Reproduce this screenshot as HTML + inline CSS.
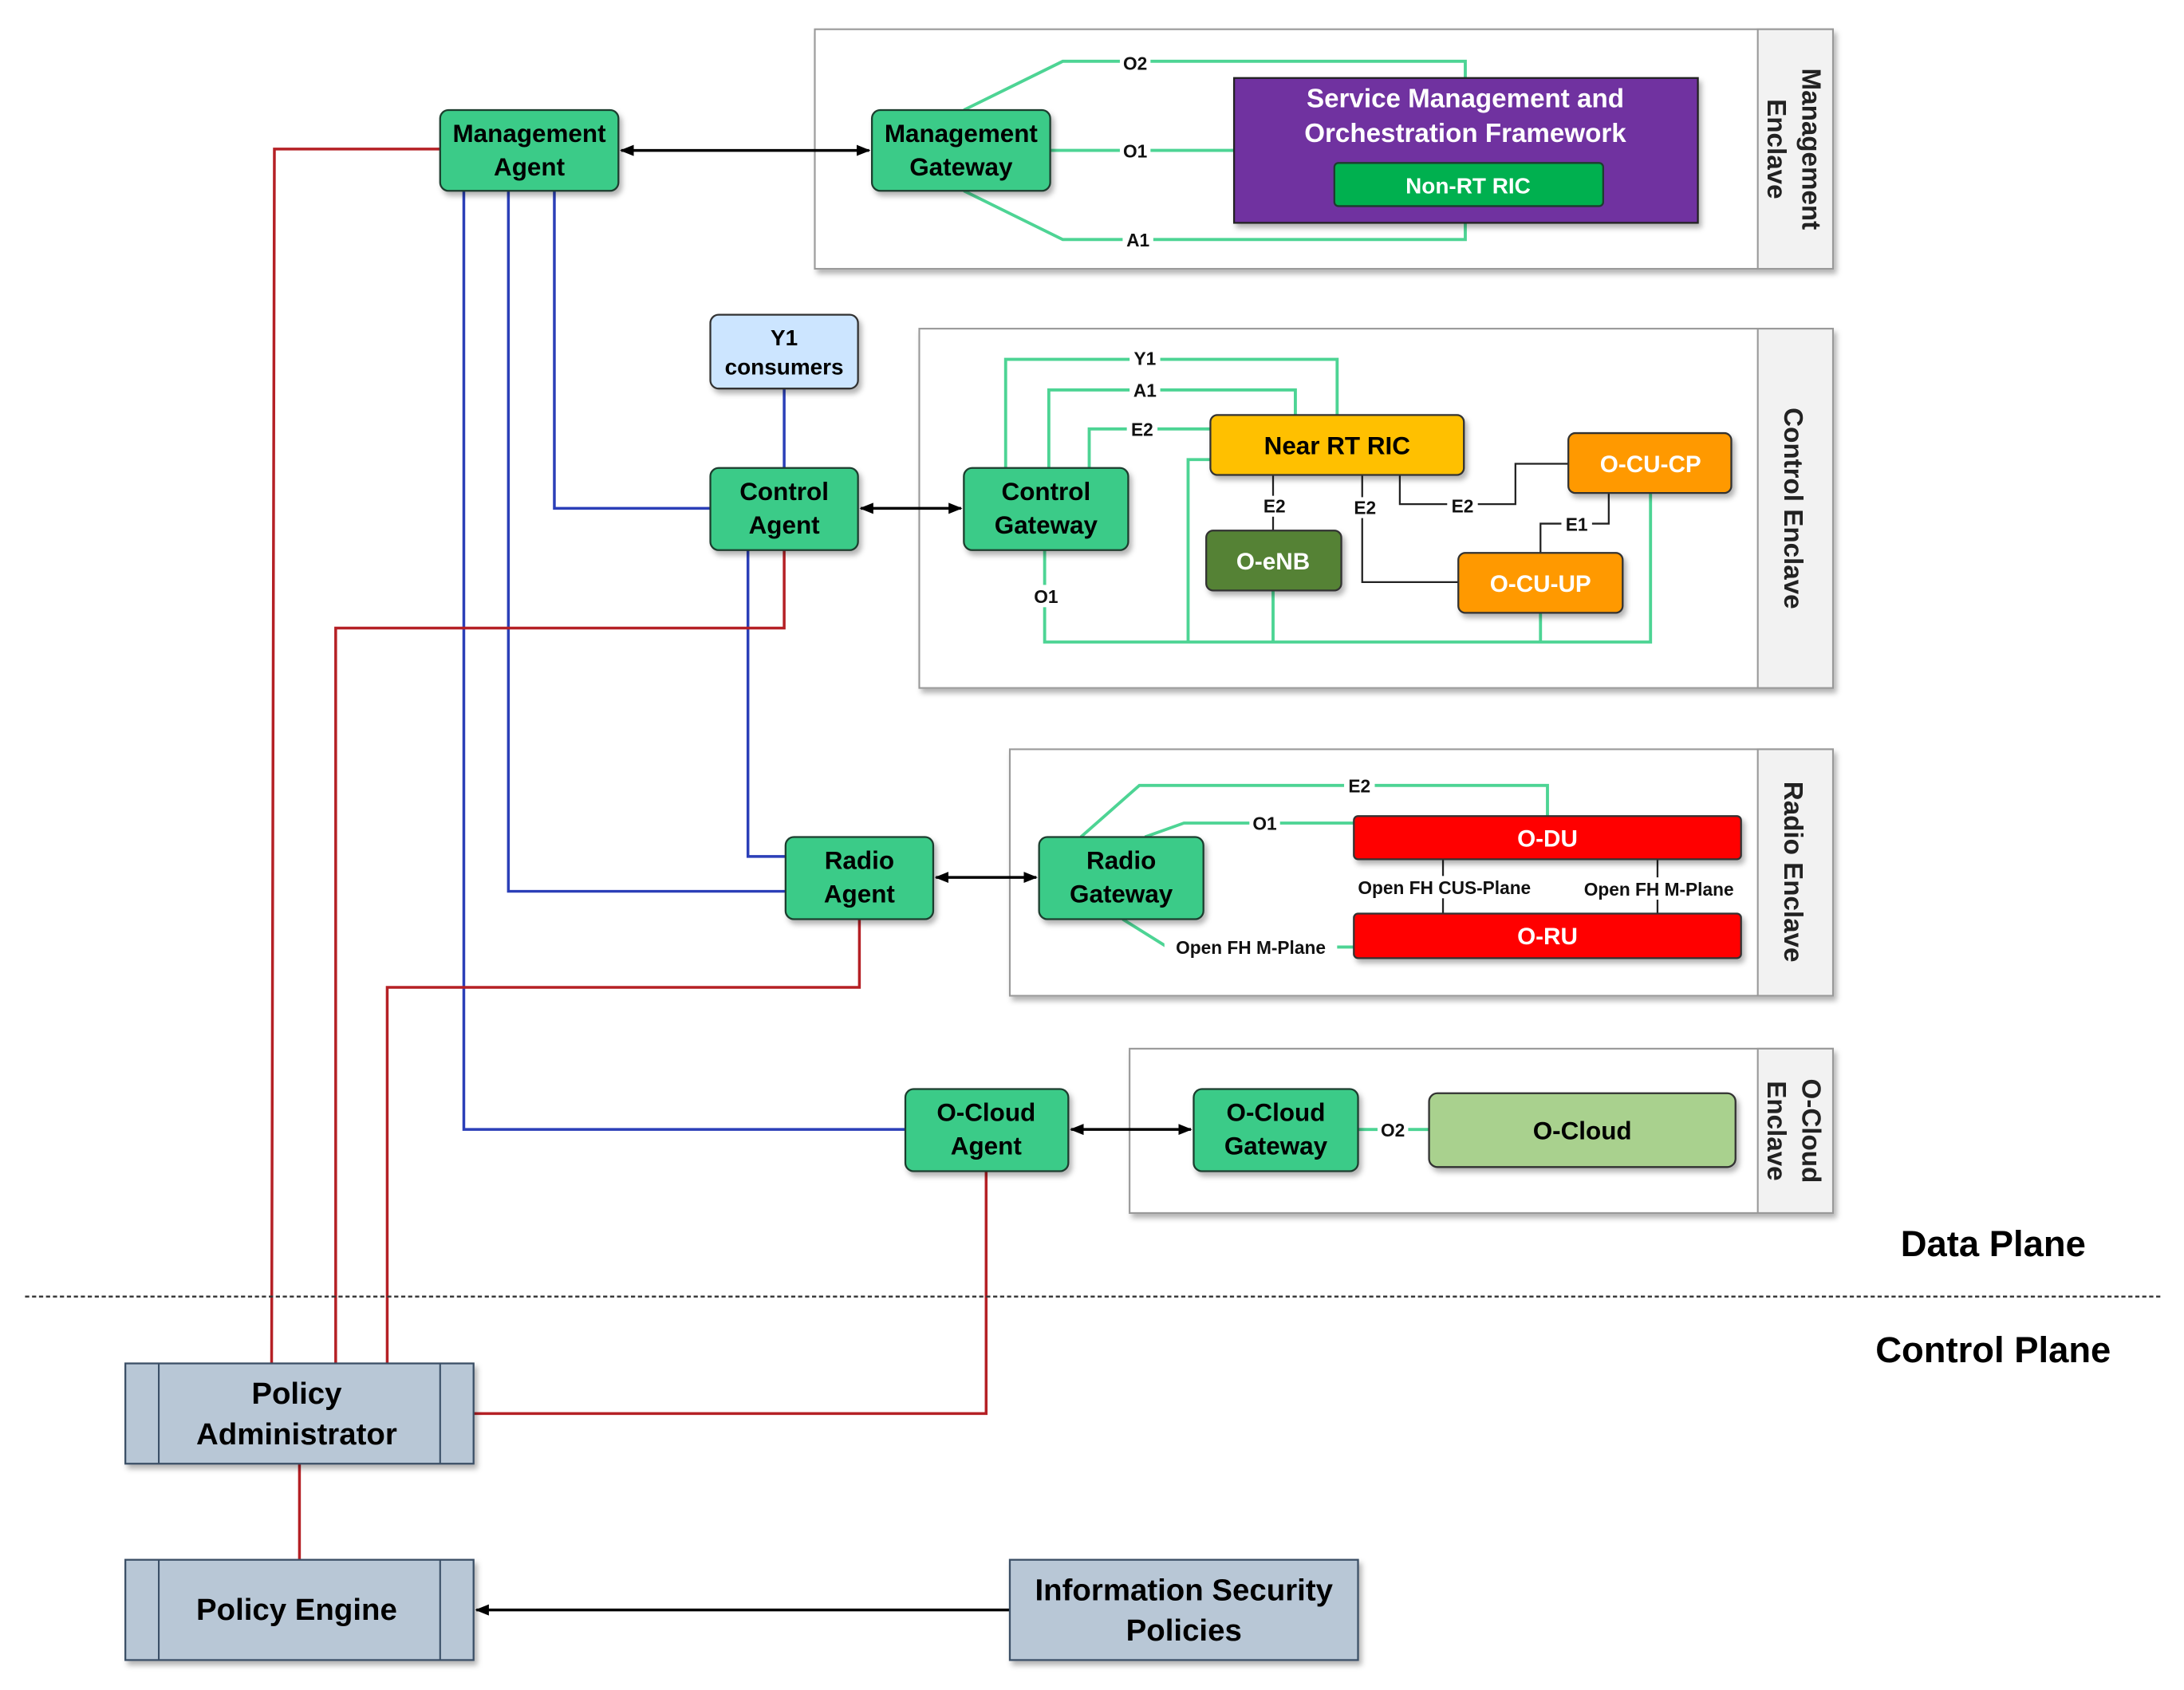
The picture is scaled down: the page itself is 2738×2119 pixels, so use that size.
<!DOCTYPE html>
<html><head><meta charset="utf-8"><style>
html,body{margin:0;padding:0;background:#fff;}
svg{display:block;}
text{font-family:"Liberation Sans",sans-serif;font-weight:bold;}
</style></head><body>
<svg width="2738" height="2119" viewBox="0 0 1568 1213.5" xmlns="http://www.w3.org/2000/svg">
<defs>
<marker id="ah" markerWidth="10" markerHeight="10" refX="9" refY="5" orient="auto-start-reverse" markerUnits="userSpaceOnUse"><path d="M0,1 L10,5 L0,9 Z" fill="#000"/></marker>
<filter id="sh" x="-10%" y="-10%" width="130%" height="140%"><feDropShadow dx="2" dy="3" stdDeviation="2" flood-color="#000" flood-opacity="0.3"/></filter>
</defs>

<!-- Enclaves -->
<g stroke="#999" stroke-width="1.2" fill="#fff" filter="url(#sh)">
<rect x="585" y="21" width="731" height="172"/>
<rect x="660" y="236" width="656" height="258"/>
<rect x="725" y="538" width="591" height="177"/>
<rect x="811" y="753" width="505" height="118"/>
</g>
<g stroke="#999" stroke-width="1.2" fill="#f2f2f2">
<rect x="1262" y="21" width="54" height="172"/>
<rect x="1262" y="236" width="54" height="258"/>
<rect x="1262" y="538" width="54" height="177"/>
<rect x="1262" y="753" width="54" height="118"/>
</g>
<g font-size="19" fill="#222" text-anchor="middle">
<text transform="translate(1294,107) rotate(90)">Management</text>
<text transform="translate(1269,107) rotate(90)">Enclave</text>
<text transform="translate(1281,365) rotate(90)">Control Enclave</text>
<text transform="translate(1281,626) rotate(90)">Radio Enclave</text>
<text transform="translate(1294,812) rotate(90)">O-Cloud</text>
<text transform="translate(1269,812) rotate(90)">Enclave</text>
</g>

<!-- Green connectors -->
<g stroke="#4dd494" stroke-width="2.2" fill="none">
<polyline points="692,79 763,44 1052,44 1052,56"/>
<polyline points="754,108 886,108"/>
<polyline points="692,137 763,172 1052,172 1052,148"/>
<polyline points="722,336 722,258 960,258 960,298"/>
<polyline points="753,336 753,280 930,280 930,298"/>
<polyline points="782,336 782,308 869,308"/>
<polyline points="750,395 750,461 1185,461 1185,354"/>
<polyline points="853,461 853,330 869,330"/>
<polyline points="914,461 914,424"/>
<polyline points="1106,461 1106,440"/>
<polyline points="776,601 818,564 1111,564 1111,586"/>
<polyline points="822,601 850,591 972,591"/>
<polyline points="806,660 838,680 972,680"/>
<polyline points="975,811 1026,811"/>
</g>
<!-- Black connectors -->
<g stroke="#222" stroke-width="1.3" fill="none">
<polyline points="914,341 914,381"/>
<polyline points="978,341 978,418 1047,418"/>
<polyline points="1005,341 1005,362 1088,362 1088,333 1126,333"/>
<polyline points="1155,354 1155,376 1106,376 1106,397"/>
<polyline points="1036,617 1036,656"/>
<polyline points="1190,617 1190,656"/>
</g>
<!-- labels on connectors -->
<g font-size="13" fill="#111" text-anchor="middle">
<g fill="#fff" stroke="none">
<rect x="804" y="37" width="22" height="15"/><rect x="804" y="101" width="22" height="15"/><rect x="806" y="165" width="22" height="15"/>
<rect x="811" y="250" width="22" height="15"/><rect x="811" y="273" width="22" height="15"/><rect x="809" y="301" width="22" height="15"/>
<rect x="740" y="420" width="22" height="16"/><rect x="904" y="356" width="22" height="15"/><rect x="969" y="357" width="22" height="15"/>
<rect x="1039" y="356" width="22" height="15"/><rect x="1121" y="369" width="22" height="15"/>
<rect x="965" y="557" width="22" height="15"/><rect x="897" y="584" width="22" height="15"/><rect x="836" y="672" width="124" height="16"/>
<rect x="964" y="629" width="146" height="16"/><rect x="1128" y="630" width="126" height="16"/><rect x="989" y="804" width="22" height="15"/>
</g>
<text x="815" y="50">O2</text><text x="815" y="113">O1</text><text x="817" y="177">A1</text>
<text x="822" y="262">Y1</text><text x="822" y="285">A1</text><text x="820" y="313">E2</text>
<text x="751" y="433">O1</text><text x="915" y="368">E2</text><text x="980" y="369">E2</text>
<text x="1050" y="368">E2</text><text x="1132" y="381">E1</text>
<text x="976" y="569">E2</text><text x="908" y="596">O1</text><text x="898" y="685">Open FH M-Plane</text>
<text x="1037" y="642">Open FH CUS-Plane</text><text x="1191" y="643">Open FH M-Plane</text>
<text x="1000" y="816">O2</text>
</g>

<!-- Blue lines -->
<g stroke="#2b3fb8" stroke-width="2" fill="none">
<polyline points="398,137 398,365 510,365"/>
<polyline points="365,137 365,640 564,640"/>
<polyline points="333,137 333,811 650,811"/>
<polyline points="537,395 537,615 564,615"/>
<polyline points="563,279 563,336"/>
</g>
<!-- Red lines -->
<g stroke="#b52025" stroke-width="2" fill="none">
<polyline points="316,107 197,107 195,979"/>
<polyline points="563,395 563,451 241,451 241,979"/>
<polyline points="617,660 617,709 278,709 278,979"/>
<polyline points="708,841 708,1015 340,1015"/>
<polyline points="215,1051 215,1120"/>
</g>
<!-- arrows -->
<g stroke="#000" stroke-width="2" fill="none">
<line x1="446" y1="108" x2="624" y2="108" marker-start="url(#ah)" marker-end="url(#ah)"/>
<line x1="618" y1="365" x2="690" y2="365" marker-start="url(#ah)" marker-end="url(#ah)"/>
<line x1="672" y1="630" x2="744" y2="630" marker-start="url(#ah)" marker-end="url(#ah)"/>
<line x1="769" y1="811" x2="855" y2="811" marker-start="url(#ah)" marker-end="url(#ah)"/>
<line x1="725" y1="1156" x2="342" y2="1156" marker-end="url(#ah)"/>
</g>
<!-- dashed -->
<line x1="18" y1="931" x2="1552" y2="931" stroke="#333" stroke-width="1.3" stroke-dasharray="3,2"/>
<g font-size="26" fill="#000" text-anchor="middle">
<text x="1431" y="902">Data Plane</text>
<text x="1431" y="978">Control Plane</text>
</g>

<!-- Nodes -->
<g filter="url(#sh)" stroke="#1f3d2e" stroke-width="1.3">
<rect x="316" y="79" width="128" height="58" rx="6" fill="#3acb88"/>
<rect x="626" y="79" width="128" height="58" rx="6" fill="#3acb88"/>
<rect x="886" y="56" width="333" height="104" fill="#7030a0" stroke="#222"/>
<rect x="958" y="117" width="193" height="31" rx="3" fill="#00b050"/>
<rect x="510" y="226" width="106" height="53" rx="6" fill="#cce5ff" stroke="#333"/>
<rect x="510" y="336" width="106" height="59" rx="6" fill="#3acb88"/>
<rect x="692" y="336" width="118" height="59" rx="6" fill="#3acb88"/>
<rect x="869" y="298" width="182" height="43" rx="5" fill="#ffc000" stroke="#333"/>
<rect x="1126" y="311" width="117" height="43" rx="5" fill="#ff9900" stroke="#333"/>
<rect x="866" y="381" width="97" height="43" rx="5" fill="#548235" stroke="#333"/>
<rect x="1047" y="397" width="118" height="43" rx="5" fill="#ff9900" stroke="#333"/>
<rect x="564" y="601" width="106" height="59" rx="6" fill="#3acb88"/>
<rect x="746" y="601" width="118" height="59" rx="6" fill="#3acb88"/>
<rect x="972" y="586" width="278" height="31" rx="3" fill="#ff0000" stroke="#333"/>
<rect x="972" y="656" width="278" height="32" rx="3" fill="#ff0000" stroke="#333"/>
<rect x="650" y="782" width="117" height="59" rx="6" fill="#3acb88"/>
<rect x="857" y="782" width="118" height="59" rx="6" fill="#3acb88"/>
<rect x="1026" y="785" width="220" height="53" rx="6" fill="#a9d18e" stroke="#333"/>
<rect x="90" y="979" width="250" height="72" fill="#b8c7d6" stroke="#3a4f66"/>
<rect x="90" y="1120" width="250" height="72" fill="#b8c7d6" stroke="#3a4f66"/>
<rect x="725" y="1120" width="250" height="72" fill="#b8c7d6" stroke="#3a4f66"/>
</g>
<g stroke="#3a4f66" stroke-width="1.2">
<line x1="114" y1="979" x2="114" y2="1051"/><line x1="316" y1="979" x2="316" y2="1051"/>
<line x1="114" y1="1120" x2="114" y2="1192"/><line x1="316" y1="1120" x2="316" y2="1192"/>
</g>

<g font-size="18" fill="#000" text-anchor="middle">
<text x="380" y="102">Management</text><text x="380" y="126">Agent</text>
<text x="690" y="102">Management</text><text x="690" y="126">Gateway</text>
<text x="563" y="248" font-size="16">Y1</text><text x="563" y="269" font-size="16">consumers</text>
<text x="563" y="359">Control</text><text x="563" y="383">Agent</text>
<text x="751" y="359">Control</text><text x="751" y="383">Gateway</text>
<text x="960" y="326">Near RT RIC</text>
<text x="617" y="624">Radio</text><text x="617" y="648">Agent</text>
<text x="805" y="624">Radio</text><text x="805" y="648">Gateway</text>
<text x="708" y="805">O-Cloud</text><text x="708" y="829">Agent</text>
<text x="916" y="805">O-Cloud</text><text x="916" y="829">Gateway</text>
<text x="1136" y="818">O-Cloud</text>
</g>
<g font-size="17" fill="#fff" text-anchor="middle">
<text x="1052" y="77" font-size="19">Service Management and</text>
<text x="1052" y="102" font-size="19">Orchestration Framework</text>
<text x="1054" y="139" font-size="16">Non-RT RIC</text>
<text x="1185" y="339">O-CU-CP</text>
<text x="914" y="409">O-eNB</text>
<text x="1106" y="425">O-CU-UP</text>
<text x="1111" y="608">O-DU</text>
<text x="1111" y="678">O-RU</text>
</g>
<g font-size="22" fill="#000" text-anchor="middle">
<text x="213" y="1008">Policy</text><text x="213" y="1037">Administrator</text>
<text x="213" y="1163">Policy Engine</text>
<text x="850" y="1149">Information Security</text><text x="850" y="1178">Policies</text>
</g>
</svg>
</body></html>
